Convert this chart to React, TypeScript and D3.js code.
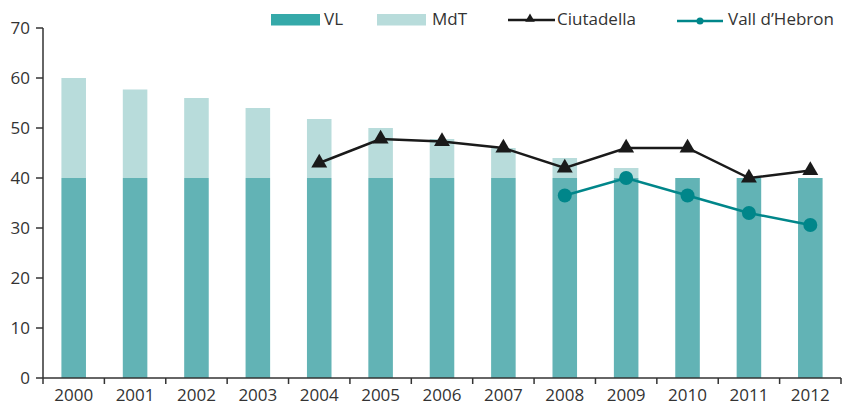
import React, { useEffect, useRef } from 'react';
import * as d3 from 'd3';

const years = ['2000', '2001', '2002', '2003', '2004', '2005', '2006', '2007', '2008', '2009', '2010', '2011', '2012'];
const vl = [40, 40, 40, 40, 40, 40, 40, 40, 40, 40, 40, 40, 40];
const mdtTotal = [60, 57.7, 56, 54, 51.8, 50, 47.8, 46, 44, 42, 40, 40, 40];
const ciutadella: (number | null)[] = [null, null, null, null, 43, 47.8, 47.3, 46, 42, 46, 46, 40, 41.5];
const vallHebron: (number | null)[] = [null, null, null, null, null, null, null, null, 36.5, 40, 36.5, 33, 30.6];
const yTicks = [0, 10, 20, 30, 40, 50, 60, 70];

export default function App() {
    const ref = useRef<SVGSVGElement>(null);

    useEffect(() => {
        if (!ref.current) return;
        const svg = d3.select(ref.current);
        svg.selectAll('*').remove();

        const left = 43, right = 841, top = 28, bottom = 378;
        const font = "'Open Sans', 'Noto Sans', sans-serif";
        const x = d3.scaleBand().domain(years).range([left, right]).paddingInner(0.6).paddingOuter(0.3);
        const xc = (yr: string) => (x(yr) as number) + x.bandwidth() / 2;
        const y = d3.scaleLinear().domain([0, 70]).range([bottom, top]);
        const step = (right - left) / years.length;

        // bars
        const g = svg.append('g');
        g.selectAll('.mdt').data(years).enter().append('rect')
            .attr('x', d => x(d) as number)
            .attr('width', x.bandwidth())
            .attr('y', (_, i) => y(mdtTotal[i]))
            .attr('height', (_, i) => y(vl[i]) - y(mdtTotal[i]))
            .attr('fill', '#b8dcdb');
        g.selectAll('.vl').data(years).enter().append('rect')
            .attr('x', d => x(d) as number)
            .attr('width', x.bandwidth())
            .attr('y', (_, i) => y(vl[i]))
            .attr('height', (_, i) => y(0) - y(vl[i]))
            .attr('fill', '#62b3b5');

        // axes
        const axisColor = '#333';
        svg.append('line').attr('x1', left).attr('x2', left).attr('y1', top).attr('y2', bottom).attr('stroke', axisColor).attr('stroke-width', 1.5);
        svg.append('line').attr('x1', left).attr('x2', right).attr('y1', bottom).attr('y2', bottom).attr('stroke', axisColor).attr('stroke-width', 1.5);
        yTicks.forEach(t => {
            svg.append('line').attr('x1', left - 7).attr('x2', left).attr('y1', y(t)).attr('y2', y(t)).attr('stroke', axisColor).attr('stroke-width', 1.5);
            svg.append('text').attr('x', 30).attr('y', y(t)).attr('dy', '0.35em').attr('text-anchor', 'end')
                .style('font-family', font).style('font-size', '17px').style('fill', '#333').text(t);
        });
        d3.range(years.length + 1).forEach(i => {
            const xx = left + i * step;
            svg.append('line').attr('x1', xx).attr('x2', xx).attr('y1', bottom).attr('y2', bottom + 6).attr('stroke', axisColor).attr('stroke-width', 1.5);
        });
        years.forEach(yr => {
            svg.append('text').attr('x', xc(yr)).attr('y', 401).attr('text-anchor', 'middle')
                .style('font-family', font).style('font-size', '17px').style('fill', '#333').text(yr);
        });

        // lines
        const line = d3.line<number | null>()
            .defined(d => d !== null)
            .x((_, i) => xc(years[i]))
            .y(d => y(d as number));
        svg.append('path').datum(ciutadella).attr('d', line).attr('fill', 'none').attr('stroke', '#1a1a1a').attr('stroke-width', 2.5);
        svg.append('path').datum(vallHebron).attr('d', line).attr('fill', 'none').attr('stroke', '#00868a').attr('stroke-width', 2.5);

        const tri = d3.symbol().type(d3.symbolTriangle).size(110);
        ciutadella.forEach((v, i) => {
            if (v === null) return;
            svg.append('path').attr('d', tri()).attr('transform', `translate(${xc(years[i])},${y(v)})`).attr('fill', '#1a1a1a');
        });
        vallHebron.forEach((v, i) => {
            if (v === null) return;
            svg.append('circle').attr('cx', xc(years[i])).attr('cy', y(v)).attr('r', 7).attr('fill', '#00868a');
        });

        // legend
        const lg = svg.append('g').style('font-family', font).style('font-size', '17px').style('fill', '#333');
        lg.append('rect').attr('x', 271).attr('y', 14).attr('width', 49).attr('height', 11.5).attr('fill', '#35a9a9');
        lg.append('text').attr('x', 324).attr('y', 25).text('VL');
        lg.append('rect').attr('x', 377).attr('y', 14).attr('width', 49).attr('height', 11.5).attr('fill', '#b8dcdb');
        lg.append('text').attr('x', 432).attr('y', 25).text('MdT');
        lg.append('line').attr('x1', 508).attr('x2', 555).attr('y1', 20).attr('y2', 20).attr('stroke', '#1a1a1a').attr('stroke-width', 2.5);
        lg.append('path').attr('d', d3.symbol().type(d3.symbolTriangle).size(40)()).attr('transform', 'translate(530,19)').attr('fill', '#1a1a1a');
        lg.append('text').attr('x', 557).attr('y', 25).text('Ciutadella');
        lg.append('line').attr('x1', 677).attr('x2', 723).attr('y1', 21).attr('y2', 21).attr('stroke', '#00868a').attr('stroke-width', 2.5);
        lg.append('circle').attr('cx', 700).attr('cy', 21).attr('r', 3.5).attr('fill', '#00868a');
        lg.append('text').attr('x', 728).attr('y', 25).text('Vall d\u2019Hebron');
    }, []);

    return (
        <svg ref={ref} width={843} height={406} style={{ position: 'absolute', left: 0, top: 0, background: '#fff' }} />
    );
}
